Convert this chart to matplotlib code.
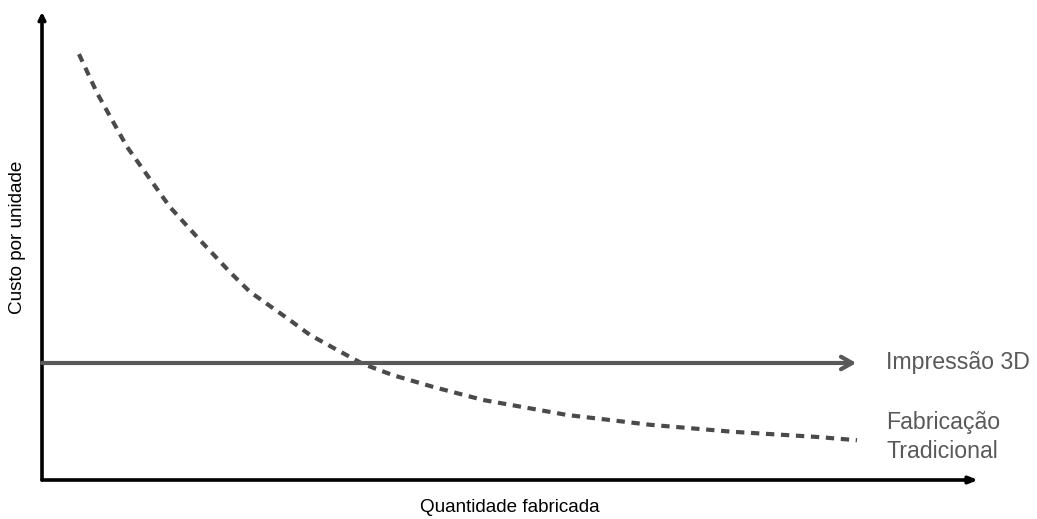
import matplotlib.pyplot as plt

plt.rcParams["font.family"] = ["Liberation Sans", "DejaVu Sans"]

# curva da fabricação tradicional (quantidade, custo)
quantidade = [3.95, 5.88, 9.08, 11.75, 13.68, 16.67, 20.09, 22.22, 26.18, 28.63,
              31.52, 34.29, 37.50, 41.77, 47.12, 56.09, 64.96, 73.82, 82.80, 87.07]
custo_tradicional = [91.0, 82.7, 71.2, 63.7, 58.3, 51.7, 44.4, 40.2, 34.6, 31.0,
                     27.8, 24.8, 22.4, 19.9, 17.1, 13.9, 11.8, 10.3, 9.2, 8.5]
custo_impressao = 25.0
fim_impressao = 87.0

CINZA = "#595959"

fig = plt.figure(figsize=(10.37, 5.19), dpi=100)
ax = fig.add_axes([42 / 1037, 39 / 519, 936 / 1037, 468 / 519])
ax.set_xlim(0, 100)
ax.set_ylim(0, 100)
ax.axis("off")

# eixos com setas
ax.annotate("", xy=(100, 0), xytext=(0, 0),
            arrowprops=dict(arrowstyle="-|>,head_length=0.5,head_width=0.2", color="black", lw=2.6,
                            shrinkA=0, shrinkB=0), annotation_clip=False)
ax.annotate("", xy=(0, 100), xytext=(0, 0),
            arrowprops=dict(arrowstyle="->,head_length=0.4,head_width=0.2", color="black", lw=2.6,
                            shrinkA=0, shrinkB=0), annotation_clip=False)

# impressão 3D: custo constante
ax.annotate("", xy=(fim_impressao, custo_impressao), xytext=(0, custo_impressao),
            arrowprops=dict(arrowstyle="->,head_length=0.8,head_width=0.45", color=CINZA, lw=3,
                            shrinkA=0, shrinkB=0))

# fabricação tradicional
ax.plot(quantidade, custo_tradicional, color="#4a4a4a", lw=3, dashes=(2.0, 1.6))

ax.text(90.2, custo_impressao, "Impressão 3D", color=CINZA, fontsize=16.7, va="center", ha="left")
ax.text(90.2, 9.2, "Fabricação\nTradicional", color=CINZA, fontsize=16.7, va="center", ha="left",
        linespacing=1.3)

fig.text(510 / 1037, 1 - 508 / 519, "Quantidade fabricada", fontsize=13.6, ha="center", va="center")
fig.text(18 / 1037, 1 - 237 / 519, "Custo por unidade", fontsize=13.6, ha="center", va="center",
         rotation=90)

fig.savefig("out.png", dpi=100, facecolor="white")
